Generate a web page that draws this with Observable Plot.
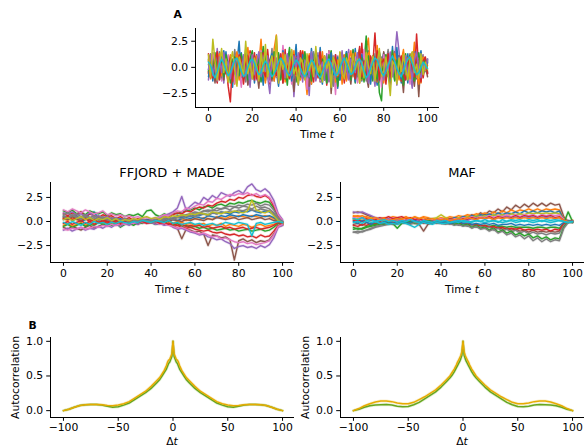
<!DOCTYPE html>
<html><head><meta charset="utf-8">
<script src="https://cdn.jsdelivr.net/npm/d3@7"></script>
<script src="https://cdn.jsdelivr.net/npm/@observablehq/plot@0.6"></script>
<style>
body{margin:0;background:#fff;font-family:"DejaVu Sans",sans-serif;}
#root{position:relative;width:586px;height:447px;overflow:hidden;background:#fff}
.panel{position:absolute}
</style></head><body><div id="root"></div>
<script>
// ---------- colours ----------
const tab = {blue:"#1f77b4", orange:"#ff7f0e", green:"#2ca02c", red:"#d62728", purple:"#9467bd",
             brown:"#8c564b", pink:"#e377c2", gray:"#7f7f7f", olive:"#bcbd22", cyan:"#17becf"};
const acGreen = "#66a61e", acGold = "#e6ab02";

// ---------- Panel A: data samples (tenths), t = 0..100 step 1 ----------
const aBlue   = [3,-8,12,5,-14,9,-2,16,-6,0, 11,-19,7,4,25,-10,2,-7,13,-3, 8,-15,6,1,-9,17,-4,10,-12,3, 14,-5,-18,9,2,-11,6,15,-7,0, 22,-13,4,-8,11,-2,7,-16,13,5, -6,19,-9,1,-14,8,3,-4,12,-20, 6,10,-3,15,-11,2,-7,18,-5,9, -13,4,0,16,-8,11,-2,-17,7,3, 14,-10,5,-6,20,-12,1,9,-15,6, -3,13,-8,2,17,-11,4,-5,10,-1, 7];
const aOrange = [-5,10,-2,7,-13,4,15,-9,1,-6, 12,-3,-16,8,0,11,-7,5,-11,14, -2,6,-9,3,27,-4,-12,9,2,-7, 18,31,-6,-1,10,-14,5,-3,13,-8, 1,-10,7,16,-5,-26,9,2,-8,12, -4,6,-13,10,0,-7,15,-2,-11,5, 8,-16,3,11,-6,1,-9,14,-3,7, -12,4,17,28,-5,-1,9,-14,6,-8, 2,12,-4,-10,7,15,-6,0,-13,9, 3,-7,11,-2,24,-9,5,-15,8,-1, 4];
const aGreen  = [8,-3,14,-9,2,6,-12,5,-1,11, -7,0,13,-15,4,9,-5,17,-2,-10, 6,1,-8,12,-4,20,-13,3,7,-6, 15,-9,2,-3,10,-11,4,19,-7,1, -14,8,-2,12,5,-17,9,-6,3,14, -8,0,11,-12,6,-4,16,-10,2,7, -5,13,9,-9,4,-2,10,-15,7,18, -11,3,30,-6,8,-13,1,12,-24,-32, 9,-4,15,-7,2,-12,11,5,-9,3, 13,-6,-1,8,-14,10,2,-5,12,-3, 6];
const aRed    = [-6,12,-3,8,-15,2,10,-9,4,-18, -33,7,-2,13,-10,5,-4,11,-7,16, -1,-12,6,9,-5,14,-8,2,-16,7, 3,-9,12,-4,0,17,-11,6,-2,-14, 10,-6,4,15,-8,1,-13,9,-3,6, -10,13,-1,7,-17,5,11,-6,2,-9, 14,-4,8,-12,3,-7,16,-2,10,-15, 23,-8,5,12,-10,2,33,-5,9,-11, 4,-16,8,1,-6,15,-3,11,-13,6, -2,9,-7,14,-12,32,-4,7,-10,3, -5];
const aPurple = [-12,5,10,-4,18,-7,2,-15,8,-1, 6,-10,14,-3,0,-8,12,5,-16,9, -2,11,-6,3,-13,7,15,-9,-25,4, 8,-5,13,-11,1,-4,10,-7,16,-28, 2,-9,5,-14,9,-3,-27,12,-6,3, 14,-8,0,-12,7,4,-5,11,-15,6, -3,9,-10,2,17,-6,12,-1,-9,5, 13,-11,4,-7,10,-2,-18,8,1,-13, 6,11,-4,-17,3,9,34,15,-8,2, -12,7,-5,-20,10,0,-9,14,-3,8, -6];
const aBrown  = [-4,-10,3,-15,6,-8,1,-12,9,-5, 2,-14,7,-2,-9,11,-6,0,-17,4, -11,5,-3,-20,8,-1,13,-7,2,-13, 6,-4,-9,12,-15,3,-6,10,-2,-23, 5,-8,14,-3,-11,7,-18,1,9,-6, -2,-14,4,11,-9,16,-25,2,-5,8, -12,3,-7,13,-4,-16,6,0,-10,9, -3,12,-8,-19,5,-1,10,-13,4,-6, 15,-9,2,-15,7,-4,-11,11,-2,-24, 6,-7,13,-3,-18,4,-28,9,-5,1, -9];
const aPink   = [10,-6,14,2,-9,6,-13,4,-3,12, -8,1,-15,9,-2,-19,7,3,-10,13, -4,8,-12,2,16,-7,5,-1,-14,10, 3,-9,11,-5,21,-2,-11,6,-16,0, 9,-4,12,-8,2,-21,7,14,-3,-10, 5,-13,8,1,-6,15,-9,3,-26,11, -2,7,-12,4,13,-7,0,10,-15,6, -5,17,-9,2,-14,8,11,-3,6,-19, 12,-1,-8,15,-5,3,-11,9,-2,14, -7,4,-16,10,1,-9,6,-4,12,-3, 5];
const aGray   = [6,13,-5,9,-2,15,-10,3,8,-12, 1,-5,17,-8,11,-1,6,-14,9,-3, 12,-7,2,-11,14,4,-9,7,-2,18, -13,5,-4,10,-8,3,12,-6,1,-10, 8,-17,6,-1,13,-9,4,-3,15,-12, 2,10,-6,9,-15,5,-2,-18,7,3, -8,14,-4,11,-1,-12,8,5,-9,16, -3,6,-13,9,2,-7,13,-4,-14,10, -6,3,17,-10,4,-2,12,-8,6,-15, 9,-1,7,-11,15,-5,2,-9,11,-4, 8];
const aBlue2  = [-9,4,-13,7,1,-6,11,-3,15,-10, 2,8,-5,-12,6,14,-8,0,10,-15, 5,-2,12,-7,3,-17,9,-4,7,13, -11,1,6,-9,16,-2,-6,10,-13,4, 9,-14,2,12,-5,7,-10,18,-1,-8, 11,-4,-16,6,3,-9,14,-7,1,10, -12,5,-3,15,-8,9,2,-14,6,-5, 12,-1,-9,7,-16,4,10,-6,15,-3, -10,8,1,-13,5,-7,19,-2,-11,6, 3,-15,9,-4,11,-8,2,16,-6,0, 5];
const aOrange2= [7,-11,2,9,-4,13,-8,5,-1,-14, 10,-6,3,15,-12,1,-5,8,19,-3, -9,4,11,-6,-1,7,-15,12,-2,5, -13,8,0,-7,14,-10,3,9,-4,16, -8,2,-12,6,10,-3,13,-16,5,-1, 8,-9,15,-5,-11,4,1,9,-14,7, 3,-7,12,-13,6,16,-4,-2,11,-9, 1,-12,7,14,-6,3,-10,21,-5,8, -15,4,10,-2,-8,13,-1,-12,6,17, -4,9,-11,2,13,-7,-16,5,10,-3, 2];
const aGreen2 = [-3,9,-7,14,-11,0,5,-9,12,3, -15,6,10,-2,-8,13,-4,1,-12,8, 16,-5,-1,9,-14,4,11,-7,2,-10, 7,-3,14,-12,5,-1,-17,8,12,-6, 3,11,-9,-4,15,-7,1,-13,6,10, -2,-11,8,4,-15,12,-6,9,-1,-18, 7,2,-10,13,-5,-12,17,-3,4,-8, 9,-14,2,11,-7,5,-3,-11,14,1, -6,12,-9,3,16,-13,7,-4,10,-17, 5,-2,11,-8,-13,6,14,-5,1,9, -4];
const aRed2   = [13,-4,-10,6,15,-12,3,8,-6,-1, 9,-13,4,-7,12,6,-16,2,11,-4, -6,14,-11,1,8,-3,-9,17,-5,3, 10,-8,-2,13,-15,7,0,-11,5,12, -7,4,16,-10,1,-5,11,-2,-14,8, 2,15,-7,-3,10,-13,6,-1,12,-9, -4,10,-15,5,2,-8,13,-11,1,20, -9,6,-3,-13,11,2,-7,16,-12,4, 8,-5,13,-10,-1,7,-14,3,11,-7, -12,4,7,-3,-9,12,-1,-14,6,10, -6];
const aPurple2= [-2,12,-8,3,-13,10,-5,14,-1,6, -11,3,8,-14,5,-3,10,-8,2,-19, 12,-6,4,15,-9,1,-4,11,-12,7, -5,9,-15,2,6,-10,13,-3,-8,11, -1,14,-6,-11,7,3,-9,15,-4,-13, 10,-2,5,-8,13,-14,3,7,-10,2, -6,16,-9,1,-12,8,4,-5,14,-11, 6,-3,11,-15,2,9,-8,-1,13,-4, -12,7,-3,14,-9,5,-17,10,1,-6, 11,-8,4,-12,7,15,-5,-10,3,-2, 8];
const aOlive  = [12,-9,27,6,-12,3,18,-5,8,-14, 5,15,-3,-18,10,2,-8,25,-6,4, -11,9,1,-13,14,-4,22,-9,3,11, -7,30,-15,8,-2,12,-10,5,17,-6, 0,-16,9,4,-12,13,-3,7,-9,20, -5,2,-14,11,-1,6,-19,10,3,-8, 15,-4,-11,9,2,-7,13,-2,8,-15, 5,-10,14,1,-6,11,-13,4,18,-9, -3,10,-7,-27,6,2,-16,9,-4,12, -1,-12,8,15,-5,3,-10,13,-7,5, -2];
const aCyan   = [5,2,-6,-10,-4,3,8,4,-3,-8, -5,1,7,9,3,-4,-9,-6,0,6, 8,4,-2,-7,-5,2,6,3,-4,-9, -6,-1,5,9,6,0,-5,-8,-3,3, 7,5,-1,-6,-9,-4,2,7,5,-1, -7,-10,-5,1,6,8,3,-3,-8,-6, 0,5,9,4,-2,-7,-5,1,6,8, 3,-4,-10,-7,-1,5,9,7,1,-5, -8,-4,2,7,11,6,-1,-6,-9,-3, 3,8,10,4,-2,-7,-5,0,5,2, -1];

// ---------- FFJORD + MADE samples (tenths), t = 0..100 step 2 ----------
const fBlue    = [5,3,4,6,2,4,8,10,3,2, 3,1,2,0,1,-1,2,0,1,0, 2,1,3,2,4,3,5,4,6,5, 7,6,8,7,9,8,10,9,8,10, 9,11,10,12,10,9,11,10,7,2, -1];
const fOrange  = [3,1,4,2,0,3,1,2,-1,1, 2,0,1,-1,1,0,2,1,-1,0, 1,-1,0,2,1,-2,0,3,1,2, 3,2,4,3,2,5,4,3,5,4, 6,5,4,6,5,4,6,5,3,0, -2];
const fGreen   = [11,9,12,8,10,7,11,9,8,10, 6,9,7,8,5,7,6,8,5,11, 12,7,5,8,6,9,8,10,11,12, 14,12,15,16,14,17,18,16,19,18, 20,19,21,22,20,19,21,20,14,5, -1];
const fRed     = [8,6,9,7,10,5,8,6,4,7, 5,6,3,5,2,4,1,3,0,2, 1,3,2,5,4,7,9,8,11,10, 13,15,14,17,16,19,21,20,23,22, 25,24,27,28,26,25,27,24,16,6, 0];
const fPurple  = [9,8,10,7,8,6,9,5,6,4, 5,3,4,2,3,1,2,0,1,0, 2,4,3,6,8,10,14,26,12,16, 20,18,25,22,27,24,30,28,26,30, 32,29,36,39,33,31,34,30,22,8, 2];
const fBrown   = [-6,-8,-5,-7,-9,-6,-4,-7,-5,-3, -5,-2,-4,-1,-3,-2,-1,-3,0,-1, 0,-2,-1,-3,-2,-5,-7,-18,-8,-9, -11,-10,-13,-25,-14,-15,-17,-16,-19,-40, -20,-18,-21,-19,-22,-20,-21,-19,-13,-5, -4];
const fPink    = [12,10,13,11,9,12,10,8,9,11, 7,8,6,7,5,6,4,5,3,4, 2,3,5,7,6,9,11,10,14,13, 16,18,17,21,20,24,23,26,28,27, 29,28,30,27,29,26,28,25,18,7, 1];
const fGray    = [6,4,7,5,3,6,4,2,5,3, 4,2,3,1,2,0,1,-1,0,1, -1,0,2,3,1,4,6,5,7,8, 10,9,11,12,11,14,13,15,16,15, 17,16,18,17,19,16,18,17,12,4, 0];
const fBlue2   = [2,4,1,3,0,2,4,1,3,2, 0,2,1,3,0,1,-1,1,0,2, 1,0,2,1,3,2,1,3,4,3, 5,4,3,6,5,4,6,5,7,6, 5,7,6,5,7,6,5,6,4,1, 0];
const fOrange2 = [-4,-2,-5,-3,-1,-4,-2,-3,0,-2, -1,-3,0,-2,-1,0,-2,1,-1,0, -1,0,-2,-1,0,-3,-2,-1,-3,-2, -4,-3,-2,-5,-3,-4,-2,-5,-3,-4, -5,-3,-4,-6,-4,-3,-5,-4,-3,-1, -3];
const fGreen2  = [-5,-3,-6,-4,-2,-5,-3,-4,-1,-3, -2,-4,-1,-6,-3,-2,-4,-1,-2,0, -1,-3,-2,0,-3,-4,-2,-5,-4,-6, -5,-7,-6,-8,-7,-9,-8,-7,-9,-8, -10,-9,-8,-10,-9,-8,-10,-9,-6,-2, -3];
const fRed2    = [-2,0,-3,-1,1,-2,0,-3,-1,0, -2,1,-1,-3,0,-1,-2,0,-1,1, 0,-2,-1,-3,-2,-5,-4,-6,-7,-6, -8,-9,-10,-9,-11,-12,-11,-13,-14,-13, -15,-14,-16,-15,-17,-14,-16,-15,-10,-4, -3];
const fPurple2 = [-9,-7,-10,-8,-6,-9,-7,-8,-5,-7, -4,-6,-3,-5,-2,-4,-1,-3,0,-2, -1,-3,-2,-4,-3,-6,-8,-7,-9,-11, -12,-14,-13,-16,-17,-19,-18,-21,-23,-28, -26,-25,-27,-26,-28,-25,-27,-24,-17,-6, -4];
const fBrown2  = [4,2,5,3,1,4,2,0,3,1, 2,0,1,-1,1,2,0,1,-1,0, 1,0,-1,1,0,2,1,0,2,1, 3,2,1,3,2,4,3,2,3,4, 2,3,4,2,3,4,2,3,1,0, -1];
const fPink2   = [-8,-9,-7,-8,-6,-8,-7,-5,-6,-4, -5,-3,-4,-2,-3,-1,-2,0,-1,-2, 0,-1,-3,-2,-4,-5,-7,-6,-8,-10, -11,-13,-12,-14,-16,-15,-18,-17,-19,-21, -22,-21,-23,-22,-24,-23,-22,-20,-14,-5, -3];
const fGray2   = [7,9,6,8,5,7,4,6,3,5, 2,4,3,1,3,2,0,2,1,-1, 1,2,0,3,4,2,5,7,6,8, 9,8,11,10,12,11,13,14,12,15, 14,16,15,13,16,14,15,13,9,3, -1];
const fRed3    = [3,5,2,4,1,3,0,2,-1,1, 0,-1,1,-2,0,-1,1,-1,0,-2, -1,0,-2,-1,-3,-2,-4,-3,-5,-4, -5,-4,-6,-5,-7,-6,-5,-7,-6,-8, -7,-6,-8,-7,-6,-8,-7,-6,-4,-1, -2];
const fGray3   = [5,3,6,4,2,5,3,4,1,3, 2,0,3,1,2,-1,1,0,2,1, 0,-1,2,1,3,2,4,3,5,6, 5,7,8,6,9,8,10,9,11,10, 12,11,13,12,11,13,12,11,8,2, -2];
const fOlive   = [2,4,1,3,5,2,4,1,3,2, 4,1,3,0,2,1,3,2,4,5, 3,4,2,5,4,6,5,7,6,8, 7,9,8,7,10,9,8,10,9,11, 10,9,11,22,12,10,9,11,6,1, -1];
const fCyan    = [-1,-3,0,-2,-4,-1,-3,0,-2,-1, -3,-1,-2,0,-1,-2,0,-1,1,0, -1,1,0,-1,1,-2,-1,-3,-2,-1, -3,-2,-4,-3,-2,-4,-3,-1,-2,-3, -1,-2,-3,-15,-2,-1,-3,-2,-1,0, -1];

// ---------- MAF samples (tenths), t = 0..100 step 2 ----------
const mBrown   = [9,10,9,7,5,3,2,3,1,2, 1,3,2,1,0,2,1,3,2,1, 2,1,3,4,3,5,4,7,5,9, 7,11,9,13,10,15,12,17,14,18, 15,19,16,19,16,19,17,18,5,0, -1];
const mOrange  = [5,6,4,5,3,4,2,4,3,5, 4,3,5,2,4,3,5,4,2,3, 4,3,5,4,6,5,7,6,8,7, 9,7,10,8,11,9,12,10,12,11, 13,11,13,11,13,12,13,12,3,0, 1];
const mBlue    = [3,1,4,2,3,1,2,0,2,1, 3,2,1,3,2,0,1,2,3,1, 2,3,1,4,3,5,4,6,5,7, 6,8,6,9,7,9,8,10,8,11, 9,11,9,11,10,11,9,11,2,0, 0];
const mOlive   = [2,3,1,2,4,2,3,1,2,3, 1,2,3,2,4,3,2,1,3,4, 7,4,3,2,4,3,5,4,6,5, 6,5,7,6,7,6,8,7,8,7, 9,8,9,8,9,8,9,8,2,-1, 0];
const mPink    = [4,5,3,4,2,3,1,3,2,4, 2,1,3,2,3,1,2,0,2,1, 3,2,1,3,2,4,3,5,3,5, 4,6,4,6,5,7,5,7,5,7, 6,7,5,7,6,7,6,7,2,0, 0];
const mRed     = [1,2,0,3,1,2,4,3,5,3, 4,5,3,4,2,3,1,2,0,1, 2,1,3,2,1,3,2,4,3,4, 3,5,3,5,4,5,4,6,4,6, 5,6,4,6,5,6,4,5,1,-1, 0];
const mPurple  = [10,9,10,8,6,4,3,2,3,1, 2,0,1,2,0,1,-1,1,0,2, 1,0,2,1,3,2,1,3,2,4, 3,4,2,4,3,5,3,5,3,5, 4,5,3,5,4,5,3,4,1,0, -1];
const mGreen   = [-8,-7,-8,-6,-5,-4,-3,-2,-3,-1, -2,-1,0,-2,-1,0,-1,1,0,-1, 0,-1,-2,-1,-3,-2,-3,-4,-3,-4, -4,-5,-4,-5,-5,-6,-5,-6,-6,-6, -6,-7,-6,-6,-7,-6,-6,-7,-2,10, 0];
const mBrown2  = [-3,-2,-4,-1,-3,-2,0,-2,-1,-3, -1,-2,0,-1,-2,-3,-10,-3,-1,-2, 0,-1,-2,-1,-3,-2,-4,-3,-5,-4, -6,-5,-7,-6,-8,-7,-9,-8,-10,-9, -11,-9,-11,-10,-11,-10,-11,-10,-3,0, 0];
const mRed2    = [-4,-5,-3,-4,-2,-3,-1,-2,0,-1, -2,0,-1,1,-1,0,-2,-1,0,-1, -2,-1,0,-2,-1,-3,-2,-4,-3,-5, -4,-6,-5,-7,-6,-8,-7,-8,-7,-9, -8,-9,-8,-9,-8,-10,-8,-9,-2,0, 1];
const mGray    = [-11,-10,-11,-9,-7,-5,-4,-3,-2,-3, -1,-2,0,-1,-2,0,-1,-2,0,-1, -2,-1,-3,-2,-4,-3,-5,-4,-6,-5, -7,-6,-9,-7,-10,-8,-11,-9,-12,-10, -13,-11,-13,-12,-14,-12,-13,-12,-4,-1, 0];
const mGreen2  = [-6,-8,-7,-5,-4,-3,-2,-3,-1,-2, -7,-2,-1,0,-2,-1,0,-2,-1,0, -1,-2,-1,-3,-2,-4,-3,-6,-4,-7, -6,-9,-7,-11,-9,-12,-10,-14,-12,-15, -13,-17,-15,-18,-16,-19,-17,-18,-6,0, -1];
const mGray2   = [-11,-12,-10,-9,-8,-6,-5,-4,-3,-2, -3,-1,-2,-3,-1,-2,0,-1,-2,-1, -2,-3,-2,-4,-3,-5,-4,-7,-5,-8, -7,-10,-8,-12,-10,-14,-12,-16,-14,-18, -15,-20,-17,-21,-18,-21,-19,-20,-7,-1, 0];
const mBlue2   = [0,-2,1,-1,-3,0,-2,-1,0,-2, -1,0,-2,-1,1,-1,0,-2,-1,0, -1,0,-2,-1,0,-2,-1,-3,-2,-3, -2,-3,-2,-4,-3,-3,-2,-4,-3,-4, -3,-4,-3,-4,-3,-4,-3,-4,-1,1, 0];
const mOrange2 = [6,5,6,4,3,4,2,3,1,2, 3,2,4,3,5,3,4,2,3,1, 2,3,1,2,3,2,4,3,2,4, 3,4,2,4,3,4,3,4,3,4, 3,4,3,4,3,4,3,4,1,0, 0];
const mCyan    = [-1,0,-2,1,-1,0,-2,-1,-3,-2, -3,-1,-2,-4,-6,-3,-1,-2,-3,-1, -2,-2,-1,0,-1,1,0,-1,1,0, 2,0,1,-1,2,0,2,1,2,0, 2,1,2,0,2,1,2,1,0,-1, 0];
const mCyan2   = [3,2,4,1,2,0,1,2,0,1, -1,1,0,2,0,-1,1,0,-1,1, 0,1,-1,0,1,0,-1,0,1,0, -1,0,1,0,-1,0,1,-1,0,1, 0,-1,0,1,0,-1,0,1,0,-1, 0];

// ---------- Autocorrelation (lag, value) ----------
const lags = [-100,-95,-90,-85,-80,-75,-70,-65,-60,-55,-50,-45,-40,-35,-30,-25,-20,-15,-12,-10,-8,-6,-5,-4,-3,-2,-1,0,1,2,3,4,5,6,8,10,12,15,20,25,30,35,40,45,50,55,60,65,70,75,80,85,90,95,100];
const acFfjordGreen = [0,0.02,0.05,0.075,0.085,0.09,0.09,0.08,0.065,0.05,0.055,0.08,0.11,0.16,0.21,0.26,0.32,0.40,0.45,0.50,0.55,0.60,0.64,0.68,0.70,0.74,0.78,1.0,0.78,0.74,0.70,0.68,0.64,0.60,0.55,0.50,0.45,0.40,0.32,0.26,0.21,0.16,0.11,0.08,0.055,0.05,0.065,0.08,0.09,0.09,0.085,0.075,0.05,0.02,0];
const acFfjordGold  = [0,0.02,0.05,0.075,0.085,0.09,0.09,0.085,0.075,0.07,0.08,0.10,0.13,0.18,0.23,0.28,0.35,0.43,0.48,0.53,0.58,0.65,0.70,0.73,0.74,0.78,0.82,1.0,0.82,0.78,0.74,0.73,0.70,0.65,0.58,0.53,0.48,0.43,0.35,0.28,0.23,0.18,0.13,0.10,0.08,0.07,0.075,0.085,0.09,0.09,0.085,0.075,0.05,0.02,0];
const acMafGreen    = [0,0.02,0.05,0.07,0.08,0.085,0.087,0.08,0.065,0.055,0.06,0.085,0.12,0.17,0.22,0.27,0.34,0.42,0.47,0.51,0.56,0.62,0.65,0.68,0.71,0.75,0.80,1.0,0.80,0.75,0.71,0.68,0.65,0.62,0.56,0.51,0.47,0.42,0.34,0.27,0.22,0.17,0.12,0.085,0.06,0.055,0.065,0.08,0.087,0.085,0.08,0.07,0.05,0.02,0];
const acMafGold     = [0,0.03,0.07,0.10,0.125,0.14,0.14,0.13,0.11,0.10,0.10,0.12,0.16,0.20,0.25,0.30,0.37,0.45,0.50,0.55,0.60,0.66,0.70,0.73,0.76,0.80,0.85,1.0,0.85,0.80,0.76,0.73,0.70,0.66,0.60,0.55,0.50,0.45,0.37,0.30,0.25,0.20,0.16,0.12,0.10,0.10,0.11,0.13,0.14,0.14,0.125,0.10,0.07,0.03,0];

// ---------- tick labels ----------
const timeTicks = [0,20,40,60,80,100];
const valTicks = [-2.5,0,2.5];
const lagTicks = [-100,-50,0,50,100];
const acTicks = [0,0.5,1];

// ---------- series lists ----------
const seriesA = [[aBlue,tab.blue],[aOrange,tab.orange],[aGreen,tab.green],[aRed,tab.red],[aPurple,tab.purple],
  [aBrown,tab.brown],[aPink,tab.pink],[aGray,tab.gray],[aBlue2,tab.blue],[aOrange2,tab.orange],[aGreen2,tab.green],
  [aRed2,tab.red],[aPurple2,tab.purple],[aOlive,tab.olive],[aCyan,tab.cyan]];
const seriesF = [[fBlue,tab.blue],[fOrange,tab.orange],[fGreen,tab.green],[fRed,tab.red],[fPurple,tab.purple],
  [fBrown,tab.brown],[fPink,tab.pink],[fGray,tab.gray],[fBlue2,tab.blue],[fOrange2,tab.orange],[fGreen2,tab.green],
  [fRed2,tab.red],[fPurple2,tab.purple],[fBrown2,tab.brown],[fPink2,tab.pink],[fGray2,tab.gray],[fRed3,tab.red],
  [fGray3,tab.gray],[fOlive,tab.olive],[fCyan,tab.cyan]];
const seriesM = [[mBrown,tab.brown],[mOrange,tab.orange],[mBlue,tab.blue],[mOlive,tab.olive],[mPink,tab.pink],
  [mRed,tab.red],[mPurple,tab.purple],[mGreen,tab.green],[mBrown2,tab.brown],[mRed2,tab.red],[mGray,tab.gray],
  [mGreen2,tab.green],[mGray2,tab.gray],[mBlue2,tab.blue],[mOrange2,tab.orange],[mCyan,tab.cyan],[mCyan2,tab.cyan]];

function toRows(list, step) {
  const out = [];
  list.forEach(([arr, c], i) => arr.forEach((v, j) => out.push({t: j * step, v: v / 10, s: i, c})));
  return out;
}
function acRows(vals, c, k) { return vals.map((v, i) => ({lag: lags[i], v, c, s: k})); }

const rowsA = toRows(seriesA, 1);
const rowsF = toRows(seriesF, 2);
const rowsM = toRows(seriesM, 2);

const FS = 10.8;
const style = {fontFamily: "DejaVu Sans", fontSize: FS + "px", color: "#000", background: "transparent", overflow: "visible"};

function italicize(svg) {
  d3.select(svg).selectAll("text").each(function () {
    const s = this.textContent;
    let pre = null;
    if (s === "Time t") pre = "Time ";
    else if (s === "\u0394t") pre = "\u0394";
    if (pre !== null) {
      while (this.firstChild) this.removeChild(this.firstChild);
      this.appendChild(document.createTextNode(pre));
      const ts = document.createElementNS("http://www.w3.org/2000/svg", "tspan");
      ts.setAttribute("font-style", "italic");
      ts.textContent = "t";
      this.appendChild(ts);
    }
  });
}

function place(svg, left, top) {
  const d = document.createElement("div");
  d.className = "panel";
  d.style.left = left + "px";
  d.style.top = top + "px";
  d.appendChild(svg);
  document.getElementById("root").appendChild(d);
  italicize(svg);
}

function axesMarks(xt, yt, xfmt, yfmt, xpad = 3.5) {
  return [
    Plot.frame({anchor: "left", stroke: "#000", strokeWidth: 1}),
    Plot.frame({anchor: "bottom", stroke: "#000", strokeWidth: 1}),
    Plot.axisX({ticks: xt, tickFormat: xfmt, tickSize: 3.8, tickPadding: xpad, label: null, fontSize: FS}),
    Plot.axisY({ticks: yt, tickFormat: yfmt, tickSize: 3.8, tickPadding: 3.5, label: null, fontSize: FS})
  ];
}

// ---------- Panel A ----------
place(Plot.plot({
  width: 310, height: 150, marginLeft: 55, marginRight: 12, marginTop: 28, marginBottom: 43,
  style,
  x: {domain: [-5, 105], insetLeft: 2},
  y: {domain: [-3.65, 3.72], insetBottom: 2},
  color: {type: "identity"},
  marks: [
    Plot.line(rowsA, {x: "t", y: "v", z: "s", stroke: "c", strokeWidth: 1.5}),
    ...axesMarks(timeTicks, valTicks, d3.format("d"), d3.format(".1f")),
    Plot.text(["Time t"], {frameAnchor: "bottom", dy: 27, lineAnchor: "middle", textAnchor: "middle", fontSize: FS}),
    Plot.text(["A"], {frameAnchor: "top-left", dx: -22, dy: -14, lineAnchor: "middle", textAnchor: "start", fontWeight: "bold", fontSize: FS})
  ]
}), 140, 0);

// ---------- Middle panels ----------
function midPanel(rows, title, mr) {
  return Plot.plot({
    width: 245 + 50 + mr - 2, height: 140, marginLeft: 50, marginRight: mr, marginTop: 22, marginBottom: 38,
    style,
    x: {domain: [-5, 105], insetLeft: 2},
    y: {domain: [-4.05, 4.05], insetBottom: 2},
    color: {type: "identity"},
    marks: [
      Plot.line(rows, {x: "t", y: "v", z: "s", stroke: "c", strokeWidth: 3, strokeOpacity: 0.15}),
      Plot.line(rows, {x: "t", y: "v", z: "s", stroke: "c", strokeWidth: 1.4}),
      ...axesMarks(timeTicks, valTicks, d3.format("d"), d3.format(".1f")),
      Plot.text(["Time t"], {frameAnchor: "bottom", dy: 27, lineAnchor: "middle", textAnchor: "middle", fontSize: FS}),
      Plot.text([title], {frameAnchor: "top", dy: -10, lineAnchor: "middle", textAnchor: "middle", fontSize: 13})
    ]
  });
}
place(midPanel(rowsF, "FFJORD + MADE", 2), 0, 160);
place(midPanel(rowsM, "MAF", 3), 290, 160);

// ---------- Autocorrelation panels ----------
function acPanel(g, y, mr, label) {
  const rows = [...acRows(g, acGreen, 0), ...acRows(y, acGold, 1)];
  const marks = [
    Plot.line(rows, {x: "lag", y: "v", z: "s", stroke: "c", strokeWidth: 3, strokeOpacity: 0.18}),
    Plot.line(rows, {x: "lag", y: "v", z: "s", stroke: "c", strokeWidth: 1.5}),
    ...axesMarks(lagTicks, acTicks, d3.format("d"), d3.format(".1f"), 2.5),
    Plot.text(["\u0394t"], {frameAnchor: "bottom", dy: 24.5, lineAnchor: "middle", textAnchor: "middle", fontSize: FS}),
    Plot.text(["Autocorrelation"], {frameAnchor: "left", dx: -35, rotate: -90, lineAnchor: "middle", textAnchor: "middle", fontSize: FS})
  ];
  if (label) marks.push(Plot.text([label], {frameAnchor: "top-left", dx: -22, dy: -12, lineAnchor: "middle", textAnchor: "start", fontWeight: "bold", fontSize: FS}));
  return Plot.plot({
    width: 245 + 50 + mr - 2, height: 137, marginLeft: 50, marginRight: mr, marginTop: 27, marginBottom: 30,
    style,
    x: {domain: [-110, 110], insetLeft: 2},
    y: {domain: [-0.07, 1.055], insetBottom: 2},
    color: {type: "identity"},
    marks
  });
}
place(acPanel(acFfjordGreen, acFfjordGold, 2, "B"), 0, 310);
place(acPanel(acMafGreen, acMafGold, 3, null), 290, 310);
</script>
</body></html>
